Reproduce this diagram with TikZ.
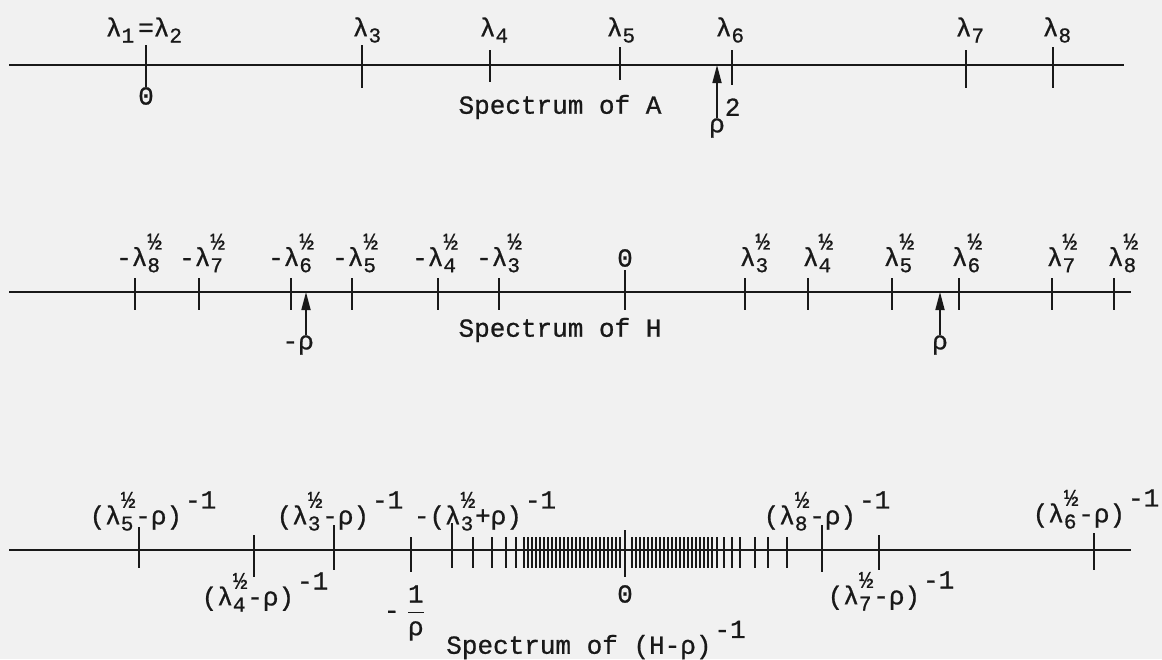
\documentclass[tikz,border=0pt]{standalone}
\usepackage{fontspec}
\usepackage{amsmath}
\setmainfont{Liberation Mono}[FakeBold=0.8]
\usetikzlibrary{arrows.meta}
\definecolor{bg}{RGB}{241,241,241}
\definecolor{ink}{RGB}{25,25,25}
\newcommand{\sbx}[1]{\raisebox{-0.45ex}{\fontsize{10.5}{11}\selectfont #1}}
\newcommand{\hlf}{\raisebox{1.2ex}{\fontsize{12}{12}\selectfont ½}}
\newcommand{\ls}[1]{λ\sbx{#1}}
\newcommand{\lh}[1]{λ\rlap{\sbx{#1}}\hlf}
\newcommand{\mo}{\hspace{1.5pt}\raisebox{1.15ex}{-1}}
\begin{document}
\begin{tikzpicture}[x=0.5pt,y=-0.5pt,
  font=\fontsize{13}{15}\selectfont,
  axis/.style={line width=1.2pt, draw=ink},
  tk/.style={line width=0.85pt, draw=ink},
  lbl/.style={inner sep=0pt, text=ink},
  arr/.style={-{Triangle[length=9pt,width=4.5pt]}, line width=0.85pt, draw=ink, fill=ink}]
\fill[bg] (0,0) rectangle (1162,659);
\useasboundingbox (0,0) rectangle (1162,659);

% ---------------- Spectrum of A ----------------
\draw[axis] (9,65) -- (1124,65);
\foreach \x/\a/\b in {146/45/87, 362/45/88, 490/50/82, 620/47/80, 732/50/85, 966/50/88, 1053/47/88}
  \draw[tk] (\x,\a) -- (\x,\b);
\node[lbl] (l12) at (144,30) {\ls{1}\hspace{2pt}=\ls{2}};
\node[lbl] (l3) at (367,30) {\ls{3}};
\node[lbl] (l4) at (494,30) {\ls{4}};
\node[lbl] (l5) at (621,30) {\ls{5}};
\node[lbl] (l6) at (730,30) {\ls{6}};
\node[lbl] (l7) at (970,30) {\ls{7}};
\node[lbl] (l8) at (1057,30) {\ls{8}};
\node[lbl] (zA) at (146,96) {0};
\node[lbl] (sA) at (560,107) {Spectrum of A};
\node[lbl] (r2) at (717,128) {ρ\rlap{\smash{\raisebox{1.2ex}{2}}}};
\coordinate (r2t) at (717,65);
\draw[arr] (r2.north) -- (r2t);

% ---------------- Spectrum of H ----------------
\draw[axis] (9,292) -- (1131,292);
\foreach \x in {135,199,291,352,438,499,745,808,892,959,1052,1114}
  \draw[tk] (\x,278) -- (\x,310);
\draw[tk] (625,270) -- (625,310);
\node[lbl] (m8) at (139,253) {-\lh{8}};
\node[lbl] (m7) at (202,253) {-\lh{7}};
\node[lbl] (m6) at (291,253) {-\lh{6}};
\node[lbl] (m5) at (355,253) {-\lh{5}};
\node[lbl] (m4) at (435,253) {-\lh{4}};
\node[lbl] (m3) at (499,253) {-\lh{3}};
\node[lbl] (zH) at (625,258) {0};
\node[lbl] (p3) at (755,253) {\lh{3}};
\node[lbl] (p4) at (818,253) {\lh{4}};
\node[lbl] (p5) at (899,253) {\lh{5}};
\node[lbl] (p6) at (967,253) {\lh{6}};
\node[lbl] (p7) at (1062,253) {\lh{7}};
\node[lbl] (p8) at (1123,253) {\lh{8}};
\node[lbl] (sH) at (560,330) {Spectrum of H};
\node[lbl] (mr) at (306,345) {\llap{-}ρ};
\coordinate (mrt) at (306,292);
\draw[arr] (mr.north) -- (mrt);
\node[lbl] (pr) at (940,345) {ρ};
\coordinate (prt) at (940,292);
\draw[arr] (pr.north) -- (prt);

% ---------------- Spectrum of (H-rho)^-1 ----------------
\draw[axis] (9,550) -- (1131,550);
\foreach \x/\a/\b in {139/527/568, 254/535/577, 334/525/570, 411/537/572, 452/523/568,
                      822/525/572, 879/535/570, 1094/533/570}
  \draw[tk] (\x,\a) -- (\x,\b);
\draw[tk] (625,530) -- (625,577);
\foreach \x in {473,492,506,516,524,528,532,...,620}
  \draw[tk] (\x,537) -- (\x,568);
\foreach \x in {787,768,755,740,732,724,717,712,708,...,629}
  \draw[tk] (\x,537) -- (\x,568);
\node[lbl] (q5) at (153,511) {(\lh{5}-ρ)\mo};
\node[lbl] (q4) at (265,592) {(\lh{4}-ρ)\mo};
\node[lbl] (q3) at (340,511) {(\lh{3}-ρ)\mo};
\node[lbl] (q3n) at (485,511) {-(\lh{3}+ρ)\mo};
\node[lbl] (mrr) at (405,613) {-\hspace{3pt}$\dfrac{\text{1}}{\text{ρ}}$};
\node[lbl] (zR) at (625,594) {0};
\node[lbl] (q8) at (827,511) {(\lh{8}-ρ)\mo};
\node[lbl] (q7) at (891,591) {(\lh{7}-ρ)\mo};
\node[lbl] (q6) at (1096,509) {(\lh{6}-ρ)\mo};
\node[lbl] (sR) at (596,640) {Spectrum of (H-ρ)\mo};
\end{tikzpicture}
\end{document}
